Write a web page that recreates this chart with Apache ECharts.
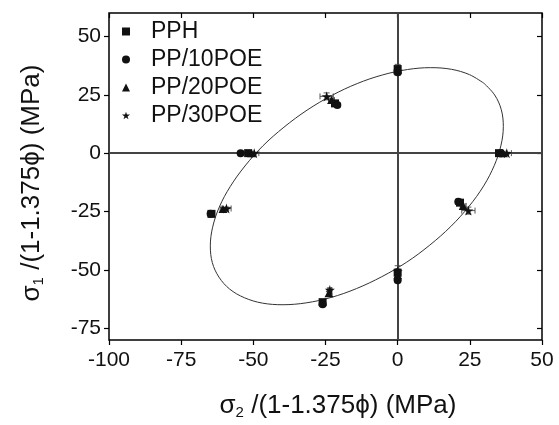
<!DOCTYPE html>
<html>
<head>
<meta charset="utf-8">
<script src="https://cdn.jsdelivr.net/npm/echarts@6/dist/echarts.min.js"></script>
<style>
  html, body { margin: 0; padding: 0; background: #fff; }
  #chart { width: 559px; height: 425px; }
</style>
</head>
<body>
<div id="chart"></div>
<script>
// Biaxial failure stresses, sigma2 (x) vs sigma1 (y), MPa
const seriesNames = ['PPH', 'PP/10POE', 'PP/20POE', 'PP/30POE'];

const pphSigma2 = [0, -21.7, -51.8, 35.1, 21.6, -64.5, -26.0, 0];
const pphSigma1 = [36.0, 21.3, 0, 0, -21.2, -26.0, -63.8, -51.2];
const pphErr2   = [0.4, 0.8, 0.8, 1.0, 0.8, 0.6, 0.6, 0.4];
const pphErr1   = [2.0, 0.8, 0.4, 0.4, 0.8, 0.6, 0.8, 3.0];

const poe10Sigma2 = [0, -20.9, -54.4, 35.8, 21.0, -64.8, -26.0, 0];
const poe10Sigma1 = [34.6, 20.6, 0, 0, -20.8, -26.0, -64.7, -54.4];
const poe10Err2   = [0.4, 0.8, 0.8, 0.8, 0.8, 0.6, 0.6, 0.4];
const poe10Err1   = [0.8, 0.8, 0.4, 0.4, 0.8, 0.6, 0.8, 1.0];

const poe20Sigma2 = [0, -22.9, -50.6, 36.6, 22.7, -60.5, -23.8, 0];
const poe20Sigma1 = [35.5, 22.7, 0, 0, -22.6, -23.9, -60.0, -52.3];
const poe20Err2   = [0.4, 1.0, 1.0, 1.0, 1.0, 1.0, 0.6, 0.4];
const poe20Err1   = [0.8, 0.8, 0.4, 0.4, 0.8, 0.6, 0.8, 1.0];

const poe30Sigma2 = [0, -24.6, -49.7, 37.8, 24.5, -59.3, -23.5, 0];
const poe30Sigma1 = [35.2, 24.3, 0, 0, -24.6, -23.7, -58.6, -50.6];
const poe30Err2   = [0.4, 2.3, 1.6, 1.6, 2.3, 1.6, 0.6, 0.4];
const poe30Err1   = [0.8, 1.5, 0.4, 0.4, 1.5, 0.6, 0.8, 1.0];

// Fitted elliptical failure envelope (sigma2, sigma1)
const envelopeSigma2 = [29.9, 24.9, 18.6, 11.4, 3.4, -5.2, -14.0, -22.8, -31.4, -39.4, -46.7, -52.9,
  -58.0, -61.8, -64.1, -64.9, -64.2, -61.9, -58.2, -53.1, -46.9, -39.7, -31.7, -23.1,
  -14.3, -5.5, 3.1, 11.1, 18.4, 24.7, 29.8, 33.5, 35.8, 36.6, 35.9, 33.6, 29.9];
const envelopeSigma1 = [29.9, 33.6, 35.9, 36.6, 35.8, 33.5, 29.8, 24.7, 18.4, 11.1, 3.1, -5.5,
  -14.3, -23.1, -31.7, -39.7, -46.9, -53.1, -58.2, -61.9, -64.2, -64.9, -64.1, -61.8,
  -58.0, -52.9, -46.7, -39.4, -31.4, -22.8, -14.0, -5.2, 3.4, 11.4, 18.6, 24.9, 29.9];

// Axis ranges and ticks
const xRange = [-100, 50];
const yRange = [-80, 60];
const xTicks = [-100, -75, -50, -25, 0, 25, 50];
const yTicks = [-75, -50, -25, 0, 25, 50];

const starPath = 'path://M50,0L61.2,34.5L97.6,34.5L68.2,55.9L79.4,90.5L50,69.1L20.6,90.5L31.8,55.9L2.4,34.5L38.8,34.5Z';
const symbols = ['rect', 'circle', 'triangle', starPath];
const symbolSizes = [8, 8, [9, 8], 10];

const groups = [
  [pphSigma2, pphSigma1, pphErr2, pphErr1],
  [poe10Sigma2, poe10Sigma1, poe10Err2, poe10Err1],
  [poe20Sigma2, poe20Sigma1, poe20Err2, poe20Err1],
  [poe30Sigma2, poe30Sigma1, poe30Err2, poe30Err1]
];

const ink = '#111';
const fontFamily = '"Liberation Sans", Arial, sans-serif';

function errorBars(params, api) {
  const x = api.value(0), y = api.value(1), ex = api.value(2), ey = api.value(3);
  const c = api.coord([x, y]);
  const l = api.coord([x - ex, y]), r = api.coord([x + ex, y]);
  const t = api.coord([x, y + ey]), b = api.coord([x, y - ey]);
  const cap = 3;
  const style = { stroke: '#444', lineWidth: 0.9 };
  const seg = (x1, y1, x2, y2) => ({ type: 'line', shape: { x1, y1, x2, y2 }, style });
  return {
    type: 'group',
    children: [
      seg(l[0], c[1], r[0], c[1]),
      seg(l[0], c[1] - cap, l[0], c[1] + cap),
      seg(r[0], c[1] - cap, r[0], c[1] + cap),
      seg(c[0], t[1], c[0], b[1]),
      seg(c[0] - cap, t[1], c[0] + cap, t[1]),
      seg(c[0] - cap, b[1], c[0] + cap, b[1])
    ]
  };
}

const series = [];

// Envelope with the sigma1 = 0 and sigma2 = 0 reference lines
series.push({
  type: 'line',
  name: 'envelope',
  data: envelopeSigma2.map((v, i) => [v, envelopeSigma1[i]]),
  smooth: 0.35,
  showSymbol: false,
  symbol: 'none',
  lineStyle: { color: '#333', width: 1 },
  silent: true,
  z: 2,
  markLine: {
    silent: true,
    symbol: 'none',
    label: { show: false },
    lineStyle: { color: '#444', width: 2, type: 'solid' },
    data: [{ xAxis: 0 }, { yAxis: 0 }],
    z: 1
  }
});

groups.forEach((g, k) => {
  const [xs, ys, ex, ey] = g;
  series.push({
    type: 'custom',
    name: seriesNames[k] + ' err',
    renderItem: errorBars,
    data: xs.map((v, i) => [v, ys[i], ex[i], ey[i]]),
    silent: true,
    z: 3
  });
});

groups.forEach((g, k) => {
  const [xs, ys] = g;
  series.push({
    type: 'scatter',
    name: seriesNames[k],
    data: xs.map((v, i) => [v, ys[i]]),
    symbol: symbols[k],
    symbolSize: symbolSizes[k],
    itemStyle: { color: ink, opacity: 1 },
    z: 4 + k
  });
});

const titleRich = {
  s: { fontFamily, fontSize: 26, color: ink },
  sub: { fontFamily, fontSize: 15, color: ink, verticalAlign: 'bottom', padding: [14, 0, 0, 0] },
  t: { fontFamily, fontSize: 26, color: ink }
};

const option = {
  animation: false,
  backgroundColor: '#fff',
  grid: {
    left: 109, right: 17, top: 13, bottom: 81,
    show: true, borderColor: '#000', borderWidth: 1.5, backgroundColor: 'transparent'
  },
  legend: {
    data: seriesNames,
    orient: 'vertical',
    left: 117, top: 15,
    itemWidth: 8, itemHeight: 8,
    itemGap: 5,
    textStyle: { fontFamily, fontSize: 23, color: ink, lineHeight: 23, padding: [0, 0, 0, 16] },
    selectedMode: false
  },
  xAxis: [
    {
      type: 'value', min: xRange[0], max: xRange[1], interval: 25,
      position: 'bottom',
      axisLine: { show: false, onZero: false },
      axisTick: { show: true, inside: false, length: 5, lineStyle: { color: '#000', width: 1.2 }, customValues: xTicks },
      axisLabel: { fontFamily, fontSize: 21, color: ink, margin: 10, customValues: xTicks, formatter: v => String(v) },
      splitLine: { show: false },
      name: '{s|σ}{sub|2}{t| /(1-1.375ϕ) (MPa)}',
      nameLocation: 'middle',
      nameGap: 51,
      nameTextStyle: { fontFamily, fontSize: 26, color: ink, padding: [0, 0, 0, 25], rich: titleRich }
    },
    {
      type: 'value', min: xRange[0], max: xRange[1], interval: 25,
      position: 'top',
      axisLine: { show: false, onZero: false },
      axisTick: { show: true, inside: true, length: 5, lineStyle: { color: '#000', width: 1.2 }, customValues: xTicks },
      axisLabel: { show: false },
      splitLine: { show: false }
    }
  ],
  yAxis: [
    {
      type: 'value', min: yRange[0], max: yRange[1],
      position: 'left',
      axisLine: { show: false, onZero: false },
      axisTick: { show: true, inside: false, length: 5, lineStyle: { color: '#000', width: 1.2 }, customValues: yTicks },
      axisLabel: { fontFamily, fontSize: 21, color: ink, margin: 8, customValues: yTicks, formatter: v => String(v) },
      splitLine: { show: false },
      name: '{s|σ}{sub|1}{t| /(1-1.375ϕ) (MPa)}',
      nameLocation: 'middle',
      nameGap: 63,
      nameRotate: 90,
      nameTextStyle: { fontFamily, fontSize: 26, color: ink, padding: [0, 13, 0, 0], rich: titleRich }
    },
    {
      type: 'value', min: yRange[0], max: yRange[1],
      position: 'right',
      axisLine: { show: false, onZero: false },
      axisTick: { show: true, inside: true, length: 5, lineStyle: { color: '#000', width: 1.2 }, customValues: yTicks },
      axisLabel: { show: false },
      splitLine: { show: false }
    }
  ],
  series
};

const chart = echarts.init(document.getElementById('chart'));
chart.setOption(option);
</script>
</body>
</html>
